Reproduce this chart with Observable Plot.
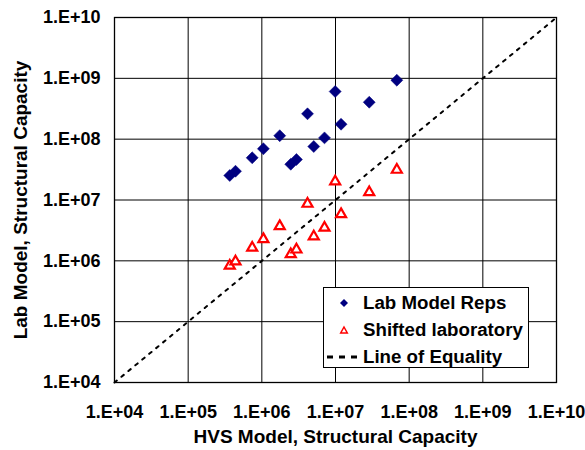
<!DOCTYPE html>
<html>
<head>
<meta charset="utf-8">
<script src="https://cdn.jsdelivr.net/npm/d3@7"></script>
<script src="https://cdn.jsdelivr.net/npm/@observablehq/plot@0.6"></script>
<style>
  html, body { margin: 0; padding: 0; background: #fff; }
  #wrap { position: relative; width: 585px; height: 450px; font-family: "Liberation Sans", Arial, sans-serif; }
  #legend { position: absolute; left: 323px; top: 287px; width: 204px; height: 79px; border: 1px solid #000; background: #fff; font-weight: bold; font-size: 18.7px; }
  .row { position: absolute; left: 0; height: 20px; display: flex; align-items: center; }
  .row svg { position: absolute; left: 2px; }
  .row span { position: absolute; left: 39px; white-space: nowrap; line-height: 20px; top: 0; }
</style>
</head>
<body>
<div id="wrap"></div>
<script>
// Tick values and labels (both axes)
const tickValues = [1e4, 1e5, 1e6, 1e7, 1e8, 1e9, 1e10];
const tickLabels = ["1.E+04", "1.E+05", "1.E+06", "1.E+07", "1.E+08", "1.E+09", "1.E+10"];

// HVS Model structural capacity (x) for each specimen
const hvsCapacity = [3.67e5, 4.39e5, 7.4e5, 1.05e6, 1.75e6, 2.47e6, 2.95e6, 4.17e6, 5.07e6, 7.09e6, 9.9e6, 1.19e7, 2.87e7, 6.8e7];
// Lab Model Reps (y)
const labModelReps = [2.53e7, 2.97e7, 4.94e7, 6.95e7, 1.14e8, 3.87e7, 4.63e7, 2.61e8, 7.57e7, 1.05e8, 6.07e8, 1.76e8, 4.05e8, 9.31e8];
// Shifted laboratory (y)
const shiftedLab = [8.28e5, 9.75e5, 1.64e6, 2.27e6, 3.71e6, 1.28e6, 1.53e6, 8.65e6, 2.51e6, 3.49e6, 2.01e7, 5.84e6, 1.34e7, 3.13e7];
// Line of equality end points
const equality = [1e4, 1e10];

const labData = hvsCapacity.map((x, i) => ({x, y: labModelReps[i]}));
const shiftedData = hvsCapacity.map((x, i) => ({x, y: shiftedLab[i]}));
const eqData = equality.map(v => ({x: v, y: v}));
const fmt = d => tickLabels[tickValues.indexOf(d)];

const chart = Plot.plot({
  width: 585,
  height: 450,
  marginLeft: 114,
  marginRight: 29,
  marginTop: 17,
  marginBottom: 68,
  style: {fontFamily: "'Liberation Sans', Arial, sans-serif", fontWeight: "bold", fontSize: "18px", color: "#000", background: "#fff"},
  x: {type: "log", domain: [1e4, 1e10]},
  y: {type: "log", domain: [1e4, 1e10]},
  marks: [
    Plot.ruleX(tickValues, {stroke: "#000", strokeWidth: 1}),
    Plot.ruleY(tickValues, {stroke: "#000", strokeWidth: 1}),
    Plot.frame({stroke: "#000", strokeWidth: 1.3}),
    Plot.line(eqData, {x: "x", y: "y", stroke: "#000", strokeWidth: 2, strokeDasharray: "3,6"}),
    Plot.dot(labData, {x: "x", y: "y", symbol: "diamond2", r: 5.4, fill: "#000080", stroke: "#000080", strokeWidth: 0.5}),
    Plot.dot(shiftedData, {x: "x", y: "y", symbol: "triangle2", r: 4.8, fill: "#fff", stroke: "#ff0000", strokeWidth: 2.2}),
    Plot.axisX(tickValues, {tickSize: 0, tickPadding: 23, tickFormat: fmt, fontSize: 18, fontWeight: "bold", label: null}),
    Plot.axisY(tickValues, {tickSize: 0, tickPadding: 14, tickFormat: fmt, fontSize: 18, fontWeight: "bold", label: null}),
    Plot.text(["HVS Model, Structural Capacity"], {frameAnchor: "bottom", dy: 54, lineAnchor: "middle", textAnchor: "middle", fontSize: 19, fontWeight: "bold"}),
    Plot.text(["Lab Model, Structural Capacity"], {frameAnchor: "left", dx: -94, rotate: -90, lineAnchor: "middle", textAnchor: "middle", fontSize: 19, fontWeight: "bold"})
  ]
});

const wrap = document.getElementById("wrap");
wrap.appendChild(chart);

// Legend (overlay inside plot area)
const legendItems = [
  {label: "Lab Model Reps", sym: '<svg width="30" height="20"><path d="M18,6 L22,10 L18,14 L14,10 Z" fill="#000080"/></svg>'},
  {label: "Shifted laboratory", sym: '<svg width="30" height="20"><path d="M18,7 L21.3,13 L14.7,13 Z" fill="#fff" stroke="#ff0000" stroke-width="1.5"/></svg>'},
  {label: "Line of Equality", sym: '<svg width="36" height="20"><line x1="1" y1="10" x2="34" y2="10" stroke="#000" stroke-width="3" stroke-dasharray="6,6"/></svg>'}
];
const legend = document.createElement("div");
legend.id = "legend";
legendItems.forEach((it, i) => {
  const row = document.createElement("div");
  row.className = "row";
  row.style.top = (5 + i * 27) + "px";
  row.innerHTML = it.sym + '<span>' + it.label + '</span>';
  legend.appendChild(row);
});
wrap.appendChild(legend);
</script>
</body>
</html>
